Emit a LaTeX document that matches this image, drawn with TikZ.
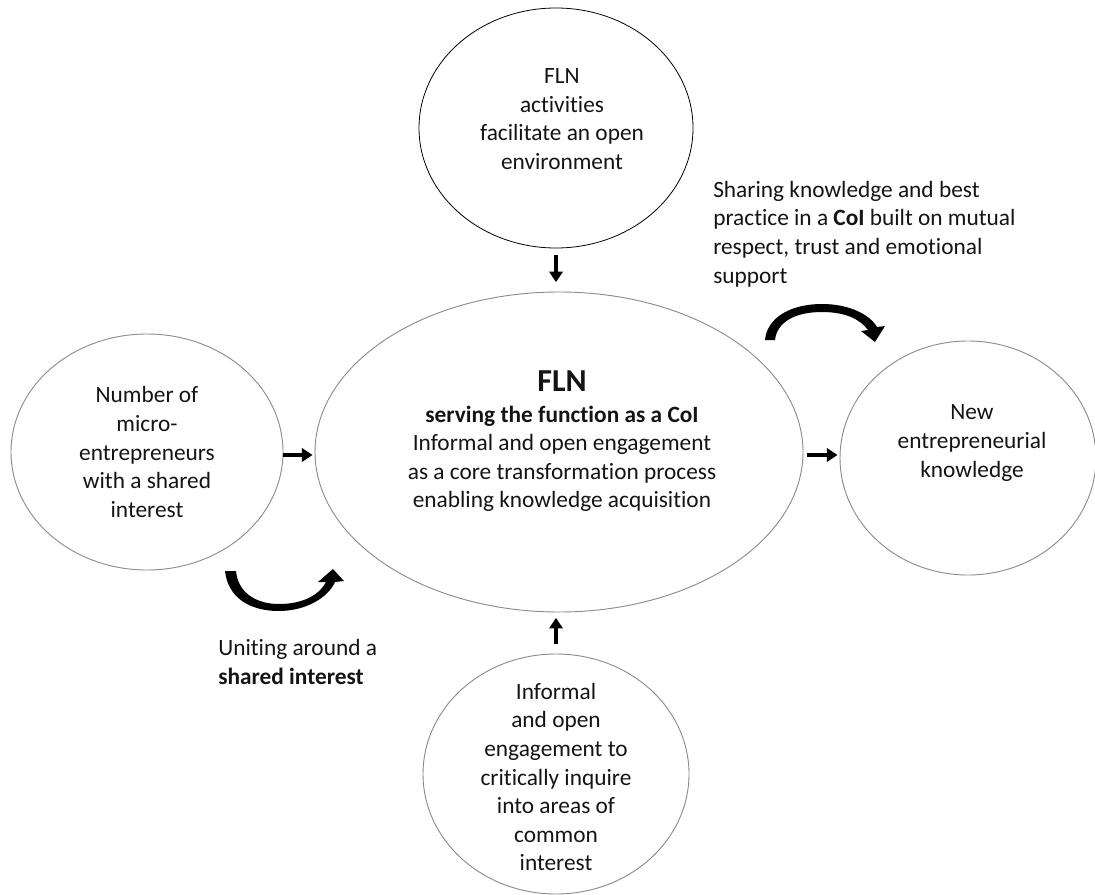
\documentclass[tikz,border=0pt]{standalone}
\usepackage{fontspec}
\setmainfont{Carlito}[RawFeature={-liga}]
\usetikzlibrary{shapes.geometric,arrows.meta}
\definecolor{ellgray}{RGB}{140,140,140}
\definecolor{txtcol}{RGB}{20,20,20}
\tikzset{
  bub/.style={ellipse, draw=ellgray, line width=0.7pt, inner sep=0pt},
  txt/.style={align=center, inner sep=0pt, text=txtcol, font=\fontsize{17.5pt}{21.4pt}\selectfont},
  ltxt/.style={align=left, inner sep=0pt, text=txtcol, font=\fontsize{17.5pt}{21.4pt}\selectfont},
  arr/.style={line width=2.6pt, -{Triangle[length=8pt,width=10pt]}},
}
\begin{document}
\begin{tikzpicture}[x=0.75pt,y=-0.75pt]
\useasboundingbox (0,0) rectangle (1095,895);
% ellipses
\node[bub, draw=black, line width=0.6pt, minimum width=205.5pt, minimum height=180pt] (top) at (556,128) {};
\node[bub, minimum width=366pt, minimum height=240pt] (center) at (559,452) {};
\node[bub, minimum width=204pt, minimum height=177pt] (left) at (147,452) {};
\node[bub, minimum width=192pt, minimum height=175.5pt] (right) at (968,458) {};
\node[bub, minimum width=199.5pt, minimum height=180pt] (bottom) at (556,774) {};
% texts
\node[txt] (toptext) at (562,119) {FLN\\activities\\facilitate an open\\environment};
\node[txt, font=\fontsize{24pt}{28pt}\selectfont\bfseries] (flnhead) at (562,381) {FLN};
\node[txt] (centertext) at (562,459) {\textbf{serving the function as a CoI}\\Informal and open engagement\\as a core transformation process\\enabling knowledge acquisition};
\node[txt] (lefttext) at (147,452) {Number of\\micro-\\entrepreneurs\\with a shared\\interest};
\node[txt] (righttext) at (972,443) {New\\entrepreneurial\\knowledge};
\node[txt] (bottomtext) at (556,777) {Informal\\and open\\engagement to\\critically inquire\\into areas of\\common\\interest};
\node[ltxt, anchor=west] (sharetext) at (713,234) {Sharing knowledge and best\\practice in a \textbf{CoI} built on mutual\\respect, trust and emotional\\support};
\node[ltxt, anchor=west] (unitetext) at (218,662) {Uniting around a\\\textbf{shared interest}};
% straight arrows
\draw[arr] ([yshift=-5pt]top.south) -- ([yshift=7pt]top.south |- center.north);
\draw[arr] ([yshift=7pt]bottom.north) -- ([yshift=-4pt]bottom.north |- center.south);
\draw[arr] (left.east |- 0,455) -- ([xshift=-1.5pt]center.west |- 0,455);
\draw[arr] ([xshift=3pt]center.east |- 0,455) -- ([xshift=-1.5pt]right.west |- 0,455);
% curved arrows
\fill (225,571) .. controls (228,598) and (250,611) .. (279,611)
  .. controls (305,611) and (328,598) .. (335,582) -- (344,581) -- (333,569) -- (318,582) -- (326,582)
  .. controls (318,597) and (300,604) .. (279,604)
  .. controls (255,604) and (238,592) .. (236,571) -- cycle;
\fill (765,340) .. controls (767,318) and (790,304) .. (822,304)
  .. controls (850,304) and (870,315) .. (877,327) -- (885,326) -- (875,342) -- (861,331) -- (868,330)
  .. controls (860,319) and (845,312) .. (822,312)
  .. controls (795,312) and (777,322) .. (775,340) -- cycle;
\end{tikzpicture}
\end{document}
